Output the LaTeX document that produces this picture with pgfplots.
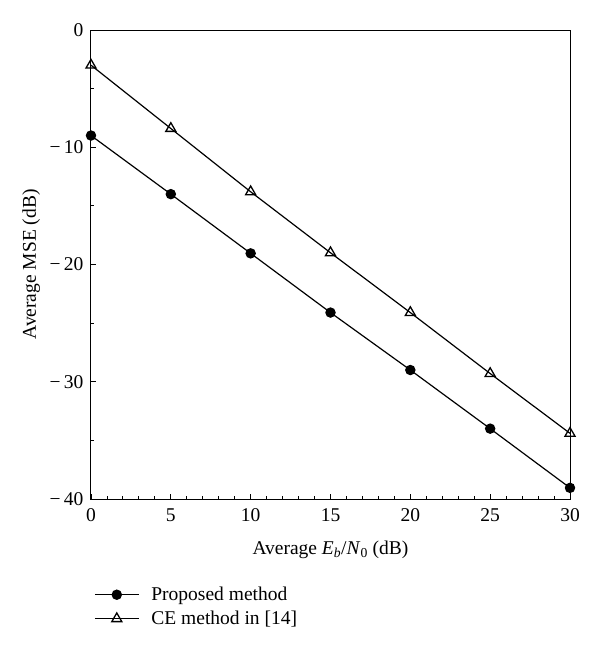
\documentclass[border=0pt]{standalone}
\usepackage{fontspec}
\setmainfont{Liberation Serif}
\usepackage{pgfplots}
\pgfplotsset{compat=1.18}
\begin{document}
\begin{tikzpicture}[font=\fontsize{19.5}{23}\selectfont]
\begin{axis}[
  at={(0pt,0pt)}, anchor=south west,
  scale only axis, width=479pt, height=469pt,
  xmin=0, xmax=30, ymin=-40, ymax=0,
  xtick={0,5,10,15,20,25,30},
  ytick={-40,-30,-20,-10,0},
  yticklabels={−\,40,−\,30,−\,20,−\,10,0},
  /pgf/number format/assume math mode=true,
  tick label style={font=\fontsize{19.5}{23}\selectfont},
  xticklabel style={yshift=-6pt},
  yticklabel style={xshift=-4pt},
  label style={font=\fontsize{19.5}{23}\selectfont},
  minor x tick num=4, minor y tick num=1,
  xtick pos=left, ytick pos=left,
  tick align=inside,
  major tick length=5pt, minor tick length=3pt,
  every tick/.style={black, line width=0.9pt},
  axis line style={line width=1pt},
  xlabel={Average \textit{E}\textsubscript{\textit{b}}/\textit{N}\textsubscript{0} (dB)},
  ylabel={Average MSE (dB)},
  xlabel style={at={(axis description cs:0.5,-0.109)}, anchor=center},
  ylabel style={at={(axis description cs:-0.125,0.5)}, anchor=center},
  legend style={at={(axis description cs:0,0)}, anchor=north west, yshift=-85pt, xshift=0pt, draw=none, fill=none, row sep=7pt,
    nodes={inner sep=1pt}, font=\fontsize{19.5}{23}\selectfont,
    /tikz/every odd column/.append style={column sep=11pt}},
  legend cell align=left,
  legend image code/.code={\draw[#1, mark repeat=2, mark phase=2] plot coordinates {(0pt,0pt) (22pt,0pt) (44pt,0pt)};},
]
\addplot[black, line width=1.2pt, mark=*, mark size=4.6pt, mark options={solid, fill=black}]
  coordinates {(0,-9) (5,-14) (10,-19.05) (15,-24.1) (20,-29) (25,-34) (30,-39.05)};
\addlegendentry{Proposed method}
\addplot[black, line width=1.2pt, mark=triangle, mark size=5.8pt, mark options={solid, fill=white, line width=1.3pt}]
  coordinates {(0,-3) (5,-8.4) (10,-13.8) (15,-19) (20,-24.1) (25,-29.3) (30,-34.4)};
\addlegendentry{CE method in [14]}
\end{axis}
\path[use as bounding box] (-91pt,-152pt) rectangle (509pt,499pt);
\end{tikzpicture}
\end{document}
